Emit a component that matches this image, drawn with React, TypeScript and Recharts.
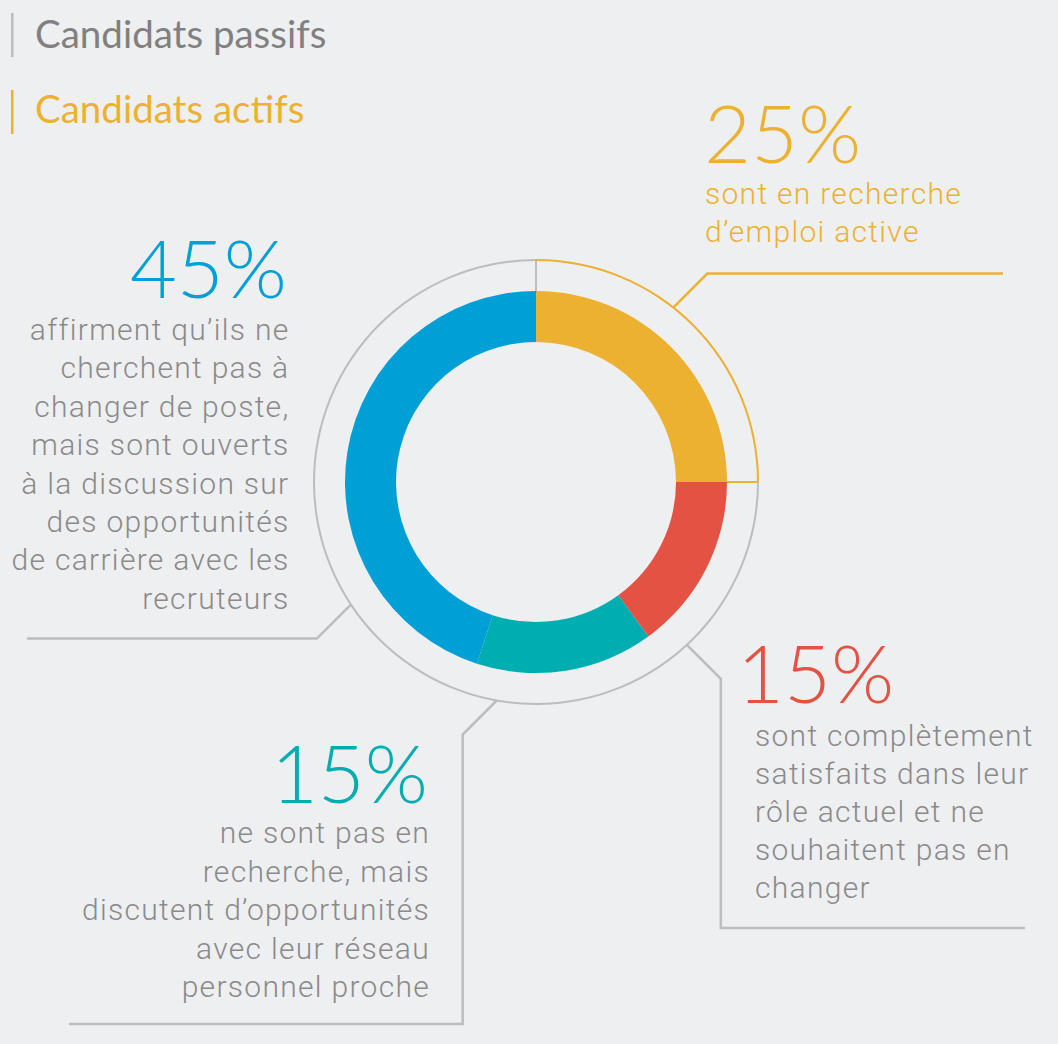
import React from 'react';
import { PieChart, Pie, Cell, Customized } from 'recharts';

// donut: share of candidates
const segments = ['Actifs', 'Satisfaits', 'Réseau proche', 'Ouverts'];
const segmentValues = [25, 15, 15, 45];
const segmentColors = ['#EDB131', '#E35242', '#00ADB1', '#00A0D6'];

// outer ring: actifs vs passifs
const ringGroups = ['Candidats actifs', 'Candidats passifs'];
const ringValues = [25, 75];
const ringColors = ['#EDB131', '#BDBDBD'];

const percentLabels = ['25%', '15%', '15%', '45%'];
const captionLines = [
  ['sont en recherche', 'd’emploi active'],
  ['sont complètement', 'satisfaits dans leur', 'rôle actuel et ne', 'souhaitent pas en', 'changer'],
  ['ne sont pas en', 'recherche, mais', 'discutent d’opportunités', 'avec leur réseau', 'personnel proche'],
  ['affirment qu’ils ne', 'cherchent pas à', 'changer de poste,', 'mais sont ouverts', 'à la discussion sur', 'des opportunités', 'de carrière avec les', 'recruteurs'],
];

const W = 1058;
const H = 1044;
const CX = 536;
const CY = 482;
const INNER = 140;
const OUTER = 191;
const RING = 222;
const GREY = '#BDBDBD';
const TEXT_GREY = '#8A8A8A';
const BODY_FONT = 'Roboto, "Liberation Sans", sans-serif';
const BIG_FONT = 'Lato, "Open Sans", sans-serif';

// layout for each annotation (same order as segments)
const layout = [
  { anchor: 51.8, elbow: [1, -1], tail: [[1003, null]], num: [704, 163, 'start'], text: [705, 204, 38, 'start'], lineColor: '#EDB131', textColor: '#EDB131' },
  { anchor: -47.2, elbow: [1, 1], tail: [[null, 928], [1025, null]], num: [737, 703, 'start'], text: [755, 746, 38, 'start'], lineColor: GREY, textColor: TEXT_GREY },
  { anchor: 259.8, elbow: [-1, 1], tail: [[null, 1024], [69, null]], num: [428, 803, 'end'], text: [430, 843, 38.6, 'end'], lineColor: GREY, textColor: TEXT_GREY },
  { anchor: 213.5, elbow: [-1, 1], tail: [[27, null]], num: [287, 298, 'end'], text: [289.5, 340, 38.4, 'end'], lineColor: GREY, textColor: TEXT_GREY },
];

const rad = (a: number) => (a * Math.PI) / 180;
const polar = (r: number, a: number) => [CX + r * Math.cos(rad(a)), CY - r * Math.sin(rad(a))];

function Annotations() {
  const total = ringValues.reduce((s, v) => s + v, 0);
  const boundaries = [90, 90 - (ringValues[0] / total) * 360];
  return (
    <g>
      {boundaries.map((a, i) => {
        const [x1, y1] = polar(OUTER, a);
        const [x2, y2] = polar(RING, a);
        return <line key={i} x1={x1} y1={y1} x2={x2} y2={y2} stroke={i === 0 ? GREY : ringColors[0]} strokeWidth={2} />;
      })}
      {layout.map((l, i) => {
        const [sx, sy] = polar(RING, l.anchor);
        const ex = sx + l.elbow[0] * 34;
        const ey = sy + l.elbow[1] * 34;
        const pts: number[][] = [[sx, sy], [ex, ey]];
        let cx = ex;
        let cy = ey;
        l.tail.forEach(([tx, ty]) => {
          if (tx != null) cx = tx;
          if (ty != null) cy = ty;
          pts.push([cx, cy]);
        });
        return (
          <g key={`a${i}`}>
            <polyline points={pts.map((p) => p.join(',')).join(' ')} fill="none" stroke={l.lineColor} strokeWidth={2.5} />
            <text x={l.num[0] as number} y={l.num[1] as number} textAnchor={l.num[2] as any} fill={segmentColors[i]} fontFamily={BIG_FONT} fontWeight={300} fontSize={81}>
              {percentLabels[i]}
            </text>
            {captionLines[i].map((t, j) => (
              <text key={j} x={l.text[0] as number} y={(l.text[1] as number) + j * (l.text[2] as number)} textAnchor={l.text[3] as any} fill={l.textColor} fontFamily={BODY_FONT} fontWeight={300} fontSize={30} letterSpacing={1.3}>
                {t}
              </text>
            ))}
          </g>
        );
      })}
      {ringGroups.slice().reverse().map((g, i) => (
        <g key={g}>
          <rect x={11} y={13 + i * 77} width={2.5} height={44} fill={ringColors[1 - i]} />
          <text x={35} y={48 + i * 75} fill={i === 0 ? '#808080' : ringColors[0]} fontFamily={BIG_FONT} fontSize={38.5}>
            {g}
          </text>
        </g>
      ))}
    </g>
  );
}

export default function App() {
  const donut = segments.map((name, i) => ({ name, value: segmentValues[i] }));
  const ring = ringGroups.map((name, i) => ({ name, value: ringValues[i] }));
  return (
    <div style={{ position: 'absolute', left: 0, top: 0, width: W, height: H, background: '#EEEFF1' }}>
      <PieChart width={W} height={H} margin={{ top: 0, right: 0, bottom: 0, left: 0 }}>
        <Pie data={ring} dataKey="value" cx={CX} cy={CY} innerRadius={RING - 1} outerRadius={RING + 1} startAngle={90} endAngle={-270} stroke="none" isAnimationActive={false}>
          {ring.map((d, i) => (
            <Cell key={d.name} fill={ringColors[i]} />
          ))}
        </Pie>
        <Pie data={donut} dataKey="value" cx={CX} cy={CY} innerRadius={INNER} outerRadius={OUTER} startAngle={90} endAngle={-270} stroke="none" isAnimationActive={false}>
          {donut.map((d, i) => (
            <Cell key={d.name} fill={segmentColors[i]} />
          ))}
        </Pie>
        <Customized component={Annotations} />
      </PieChart>
    </div>
  );
}
